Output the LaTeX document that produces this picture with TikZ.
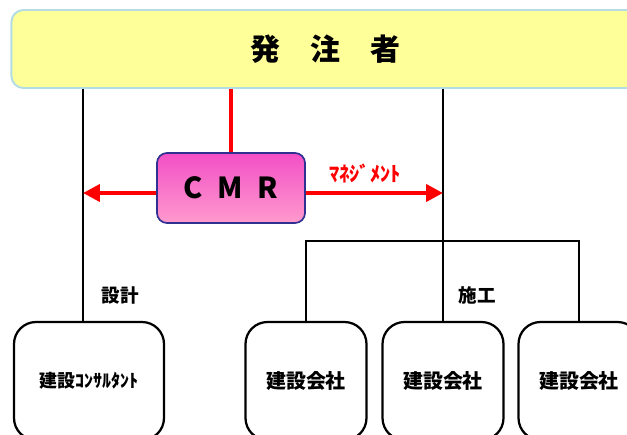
\documentclass[tikz,border=0pt]{standalone}
\usepackage{fontspec}
\setmainfont{Noto Sans CJK JP}
\usetikzlibrary{arrows.meta}

\definecolor{ownerfill}{HTML}{FFFF99}
\definecolor{ownerline}{HTML}{B4DCE4}
\definecolor{cmrtop}{HTML}{F24FC6}
\definecolor{cmrbottom}{HTML}{FF9ACD}
\definecolor{cmrline}{HTML}{2E3192}

\begin{document}
\begin{tikzpicture}[
  line/.style={black, line width=1.6pt},
  redline/.style={red, line width=2.8pt},
  redarrow/.style={redline, -{Triangle[length=0.42cm,width=0.42cm]}},
  firm/.style={draw, line width=1.6pt, rounded corners=0.55cm, minimum width=3.025cm,
    minimum height=2.95cm, font=\bfseries\fontsize{14.2pt}{16pt}\selectfont},
  label/.style={font=\bfseries\fontsize{13.2pt}{15pt}\selectfont}
  ]
\useasboundingbox (0,0) rectangle (15.675,-10.85);

% client on top
\node[draw=ownerline, fill=ownerfill, line width=1.4pt, rounded corners=0.3cm,
  minimum width=15.71cm, minimum height=1.95cm,
  font=\bfseries\fontsize{21.3pt}{24pt}\selectfont] (owner) at (8.14,-1.225) {発　注　者};

% construction manager
\node[draw=cmrline, line width=1.2pt, rounded corners=0.25cm, top color=cmrtop, bottom color=cmrbottom,
  minimum width=3.7cm, minimum height=1.75cm,
  font=\bfseries\fontsize{20.6pt}{23pt}\selectfont] (cmr) at (5.775,-4.7) {C\hspace{0.5em}M\hspace{0.5em}R};
\node[red, font=\bfseries\fontsize{14.5pt}{16pt}\selectfont] (mgmt) at (9.125,-4.325) {ﾏﾈｼﾞﾒﾝﾄ};

% design and construction firms
\node[firm, minimum width=3.75cm, font=\bfseries\fontsize{12.8pt}{15pt}\selectfont] (consult) at (2.225,-9.525) {建設ｺﾝｻﾙﾀﾝﾄ};
\node[firm] (firmA) at (7.65,-9.525) {建設会社};
\node[firm] (firmB) at (11.075,-9.525) {建設会社};
\node[firm] (firmC) at (14.475,-9.525) {建設会社};

\node[label] (design) at (3.0,-7.375) {設計};
\node[label] (build) at (11.925,-7.375) {施工};

% helper rows
\coordinate (designline) at (2.075,0);
\coordinate (arrowrow) at (0,-4.825);
\coordinate (bar) at (0,-6.025);

% connectors
\draw[line] (owner.south -| designline) -- (consult.north -| designline);
\draw[line] (owner.south -| firmB) -- (firmB.north);
\draw[redline] (owner.south -| cmr) -- (cmr.north);
\draw[redarrow] (cmr.west |- arrowrow) -- (designline |- arrowrow);
\draw[redarrow] (cmr.east |- arrowrow) -- (firmB.north |- arrowrow);
\draw[line] (firmA.north) -- (firmA.north |- bar) -- (firmC.north |- bar) -- (firmC.north);

\end{tikzpicture}
\end{document}
